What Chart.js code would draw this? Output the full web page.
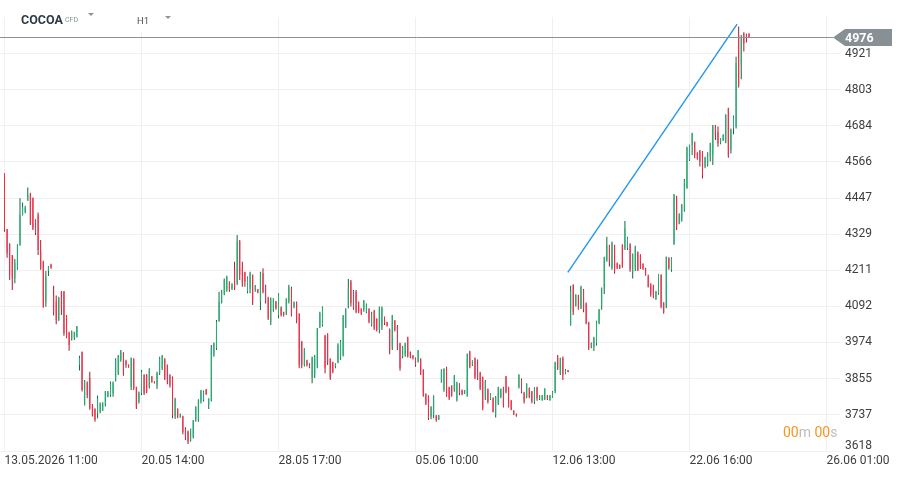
<!DOCTYPE html>
<html>
<head>
<meta charset="utf-8">
<script src="https://cdn.jsdelivr.net/npm/chart.js@4.4.1/dist/chart.umd.min.js"></script>
<style>
html,body{margin:0;padding:0;background:#fff;}
#wrap{position:relative;width:905px;height:477px;overflow:hidden;font-family:Roboto,"Noto Sans",sans-serif;}
#chart{position:absolute;left:0;top:0;}
.hdr{position:absolute;left:0;top:0;width:840px;height:17px;background:#fff;}
.hbox{position:absolute;left:128px;top:0;width:52px;height:32px;background:#fff;}
.txt{position:absolute;line-height:normal;white-space:nowrap;}
.sym{left:21px;top:11.5px;font-weight:700;font-size:12.5px;color:#2c3a45;}
.cfd{left:65px;top:15.5px;font-size:7px;color:#8a949b;}
.tf{left:137px;top:15px;font-size:9.5px;color:#4a555e;}
.tri{position:absolute;width:0;height:0;border-left:3.5px solid transparent;border-right:3.5px solid transparent;border-top:3.5px solid #8a949b;}
.timer{left:783px;top:424px;font-size:14px;color:#bdbdbd;}
.timer b{font-weight:400;color:#f7931e;}
</style>
</head>
<body>
<div id="wrap">
  <canvas id="chart" width="905" height="477"></canvas>
  <div class="hdr"></div>
  <div class="hbox"></div>
  <span class="txt sym">COCOA</span>
  <span class="txt cfd">CFD</span>
  <div class="tri" style="left:88px;top:13px;"></div>
  <span class="txt tf">H1</span>
  <div class="tri" style="left:165px;top:16px;"></div>
  <span class="txt timer"><b>00</b>m <b>00</b>s</span>
</div>
<script>
// H1 bars, index 0 = 13.05.2026 11:00
const open = [4529,4346,4294,4261,4184,4217,4292,4392,4403,4439,4458,4447,4376,4392,4274,4239,4108,4208,4230,4130,
  4108,4048,4141,4141,4062,4007,3988,3988,3993,3900,3942,3769,3843,3857,3769,3756,3742,3747,3753,3769,
  3796,3802,3807,3851,3873,3917,3938,3913,3902,3829,3920,3827,3780,3807,3867,3869,3829,3862,3847,3834,
  3873,3889,3920,3900,3867,3859,3731,3756,3729,3732,3692,3681,3654,3665,3720,3720,3780,3785,3820,3769,
  3785,3933,3955,4044,4108,4135,4146,4173,4151,4211,4168,4304,4217,4204,4140,4151,4195,4146,4148,4108,
  4201,4160,4119,4042,4081,4108,4064,4089,4073,4070,4108,4152,4092,4106,4068,3977,3900,3914,3904,3857,
  3867,3895,4026,4031,3996,4002,3920,3909,3895,3911,3922,3933,4026,4092,4174,4143,4141,4106,4084,4081,
  4075,4084,4031,4077,4051,4015,4026,4057,4040,4015,3960,4045,4028,3971,3927,3933,3991,3941,3930,3922,
  3911,3918,3883,3805,3799,3730,3736,3734,3723,3845,3818,3891,3827,3831,3818,3785,3838,3818,3807,3801,
  3944,3900,3922,3916,3875,3859,3791,3820,3788,3791,3736,3774,3794,3827,3862,3827,3783,3750,3740,3827,
  3853,3809,3796,3824,3813,3780,3826,3789,3785,3791,3800,3785,3796,3813,3928,3873,3924,3873,3883,4031,
  4162,4095,4127,4086,4146,4102,4040,3960,3960,3971,4037,4092,4152,4244,4291,4217,4291,4234,4228,4294,
  4283,4283,4296,4206,4217,4270,4261,4231,4217,4190,4166,4160,4117,4135,4195,4104,4092,4250,4212,4296,
  4452,4365,4376,4409,4480,4573,4622,4630,4596,4602,4600,4551,4556,4583,4589,4685,4665,4627,4638,4633,
  4742,4605,4676,4682,4982,4884,4988,4982,4986];
const high = [4529,4346,4299,4261,4248,4296,4447,4433,4422,4482,4465,4449,4378,4400,4310,4242,4208,4225,4232,4160,
  4128,4124,4143,4143,4064,4009,4013,4009,4028,3930,3944,3851,3846,3878,3772,3758,3800,3777,3778,3815,
  3815,3846,3846,3922,3933,3949,3942,3917,3902,3925,3922,3829,3813,3884,3870,3870,3889,3864,3847,3878,
  3927,3933,3922,3902,3870,3862,3793,3758,3741,3734,3696,3685,3692,3720,3765,3788,3818,3816,3821,3791,
  3966,3974,4048,4140,4146,4184,4193,4175,4168,4239,4326,4310,4239,4206,4190,4206,4197,4162,4149,4206,
  4217,4163,4124,4121,4119,4110,4135,4092,4075,4119,4163,4157,4108,4108,4070,3979,3955,3917,3906,3928,
  3933,4021,4075,4092,3999,4004,3922,3911,3906,3971,3982,4064,4086,4182,4179,4146,4146,4108,4086,4113,
  4102,4086,4075,4081,4053,4092,4092,4059,4042,4020,4064,4048,4031,3973,3962,3973,3993,3944,3933,3925,
  3949,3922,3886,3807,3801,3765,3801,3736,3736,3886,3889,3894,3829,3834,3867,3845,3840,3820,3818,3938,
  3947,3916,3925,3918,3878,3862,3851,3823,3807,3794,3798,3829,3823,3829,3864,3829,3785,3752,3741,3870,
  3856,3812,3840,3826,3815,3827,3829,3802,3802,3824,3802,3802,3815,3911,3933,3924,3928,3887,3884,4160,
  4165,4132,4130,4160,4149,4105,4042,3974,3993,4045,4084,4154,4255,4321,4294,4305,4294,4236,4230,4296,
  4372,4321,4299,4266,4291,4272,4263,4234,4219,4197,4168,4163,4143,4198,4198,4106,4256,4253,4253,4461,
  4455,4398,4428,4510,4616,4622,4662,4633,4598,4605,4602,4583,4598,4629,4687,4687,4682,4644,4657,4722,
  4744,4676,4718,4911,5010,4982,4991,4986,4988];
const low = [4337,4252,4179,4146,4168,4212,4292,4390,4398,4439,4359,4343,4326,4261,4212,4088,4091,4192,4216,4062,
  4034,4044,4064,3996,3988,3947,3980,3982,3990,3882,3813,3767,3791,3753,3731,3714,3725,3742,3749,3764,
  3794,3796,3796,3846,3867,3911,3865,3891,3891,3818,3818,3756,3774,3802,3802,3807,3823,3842,3839,3821,
  3867,3884,3851,3837,3826,3725,3723,3725,3727,3673,3654,3641,3649,3659,3714,3714,3774,3780,3802,3756,
  3780,3927,3949,4042,4102,4129,4140,4140,4146,4146,4162,4179,4157,4157,4135,4135,4097,4140,4135,4080,
  4135,4102,4048,4031,4075,4081,4053,4059,4059,4064,4102,4059,4086,4037,3889,3889,3895,3895,3889,3840,
  3857,3889,4021,4026,3873,3900,3851,3873,3889,3906,3917,3928,4021,4086,4092,4081,4070,4070,4064,4075,
  4070,4037,4026,4015,4010,4004,4015,4031,4026,3935,3949,4010,3949,3881,3922,3927,3925,3922,3918,3894,
  3908,3867,3796,3769,3720,3722,3725,3714,3720,3842,3812,3796,3785,3796,3812,3780,3801,3801,3805,3796,
  3889,3897,3853,3851,3818,3752,3785,3774,3785,3744,3728,3769,3791,3761,3807,3761,3752,3736,3730,3823,
  3807,3774,3791,3791,3775,3772,3783,3785,3783,3785,3785,3783,3793,3807,3884,3867,3851,3870,3876,4029,
  4064,4092,4081,4084,4073,4034,3949,3955,3946,3964,4034,4081,4133,4239,4223,4212,4199,4215,4215,4219,
  4277,4277,4206,4184,4208,4208,4215,4212,4193,4154,4124,4119,4113,4130,4086,4068,4086,4212,4206,4294,
  4343,4362,4370,4403,4478,4569,4589,4578,4573,4551,4512,4545,4551,4567,4556,4638,4616,4624,4635,4627,
  4580,4594,4657,4676,4810,4837,4928,4958,4974];
const close = [4343,4266,4195,4184,4234,4294,4392,4419,4416,4458,4365,4348,4332,4277,4217,4091,4190,4223,4219,4075,
  4048,4119,4086,4004,3990,3966,4009,4007,4026,3924,3818,3846,3802,3758,3736,3720,3791,3774,3774,3813,
  3813,3840,3843,3917,3931,3947,3873,3900,3894,3922,3824,3763,3810,3878,3807,3813,3884,3845,3840,3873,
  3924,3931,3856,3845,3834,3736,3788,3731,3739,3681,3660,3649,3690,3717,3763,3785,3816,3813,3805,3788,
  3955,3971,4042,4108,4140,4179,4190,4146,4164,4151,4304,4195,4168,4173,4186,4201,4108,4160,4137,4201,
  4140,4108,4053,4119,4117,4086,4132,4064,4064,4117,4157,4064,4106,4045,3900,3900,3953,3900,3893,3924,
  3928,4018,4070,4088,3889,3911,3857,3878,3904,3966,3977,4059,4081,4152,4103,4086,4075,4075,4070,4110,
  4099,4042,4070,4020,4015,4088,4088,4037,4029,3949,4062,4015,3955,3889,3960,3971,3929,3927,3922,3900,
  3947,3873,3801,3774,3725,3763,3798,3720,3734,3883,3886,3801,3791,3801,3864,3842,3807,3805,3816,3936,
  3894,3914,3859,3856,3823,3758,3847,3780,3805,3747,3794,3826,3820,3765,3812,3765,3754,3739,3733,3867,
  3812,3780,3837,3796,3780,3824,3791,3800,3800,3822,3789,3800,3813,3908,3889,3922,3867,3884,3877,4141,
  4075,4130,4084,4157,4081,4037,3955,3971,3988,4042,4081,4152,4252,4294,4239,4299,4206,4217,4217,4223,
  4348,4318,4212,4263,4288,4212,4217,4215,4197,4157,4130,4124,4141,4195,4092,4073,4252,4217,4250,4458,
  4348,4394,4425,4507,4613,4620,4660,4589,4578,4567,4523,4580,4594,4627,4682,4655,4627,4641,4655,4720,
  4589,4671,4715,4890,4819,4977,4955,4972,4976];

const xTickIndex = [0, 53, 106, 159, 212, 265, 318];
const xTickLabels = ['13.05.2026 11:00', '20.05 14:00', '28.05 17:00', '05.06 10:00', '12.06 13:00', '22.06 16:00', '26.06 01:00'];
const yTickValues = [3618, 3737, 3855, 3974, 4092, 4211, 4329, 4447, 4566, 4684, 4803, 4921];

// drawn trend line (bar index, price)
const trendX = [217.9, 283.4];
const trendY = [4204, 5018];

const UP = '#1fb574', UP_DARK = '#0b6b3f';
const DOWN = '#ff2b46', DOWN_DARK = '#a3192d';

const isUp = close.map((c, i) => c >= open[i]);
const bodyData = open.map((o, i) => ({x: i, y: [o, close[i]]}));
const wickData = open.map((o, i) => ({x: i, y: [low[i], high[i]]}));
const trendData = trendX.map((x, i) => ({x: x, y: trendY[i]}));

const lastPrice = {
  id: 'lastPrice',
  afterDatasetsDraw(chart) {
    const {ctx, chartArea, scales} = chart;
    const last = close[close.length - 1];
    const y = Math.round(scales.y.getPixelForValue(last)) + 0.5;
    const tip = chartArea.right - 7;
    ctx.save();
    ctx.strokeStyle = '#8a9296';
    ctx.lineWidth = 1;
    ctx.beginPath();
    ctx.moveTo(chartArea.left, y);
    ctx.lineTo(tip, y);
    ctx.stroke();
    ctx.fillStyle = '#879094';
    ctx.beginPath();
    ctx.moveTo(tip, y);
    ctx.lineTo(tip + 12, y - 8.5);
    ctx.lineTo(892, y - 8.5);
    ctx.lineTo(892, y + 8.5);
    ctx.lineTo(tip + 12, y + 8.5);
    ctx.closePath();
    ctx.fill();
    ctx.fillStyle = '#fff';
    ctx.font = 'bold 12.5px Roboto';
    ctx.textBaseline = 'middle';
    ctx.fillText(String(last), 845, y + 1);
    ctx.restore();
  }
};

new Chart(document.getElementById('chart'), {
  type: 'bar',
  data: {
    datasets: [
      {type: 'line', data: trendData, borderColor: '#2196f3', borderWidth: 1.4, pointRadius: 0, order: 0},
      {data: bodyData, backgroundColor: isUp.map(u => u ? UP : DOWN), barThickness: 1, inflateAmount: 0, minBarLength: 1, grouped: false, order: 1},
      {data: wickData, backgroundColor: isUp.map(u => u ? UP_DARK : DOWN_DARK), barThickness: 1, inflateAmount: 0, grouped: false, order: 2}
    ]
  },
  options: {
    responsive: false,
    animation: false,
    layout: {padding: 0},
    plugins: {legend: {display: false}, tooltip: {enabled: false}},
    scales: {
      x: {
        type: 'linear',
        min: -1.741,
        max: 323.2,
        offset: false,
        grid: {color: '#f0f0f0', drawTicks: false, offset: false},
        border: {display: false},
        afterBuildTicks: s => { s.ticks = xTickIndex.map(v => ({value: v})); },
        afterFit: s => { s.height = 26; s.paddingLeft = 0; s.paddingRight = 0; },
        ticks: {
          autoSkip: false, maxRotation: 0, align: 'start', padding: 3,
          color: '#3d3d3d', font: {family: 'Roboto', size: 12},
          callback: (v, i) => xTickLabels[i]
        }
      },
      y: {
        position: 'right',
        min: 3618,
        max: 5097,
        grid: {color: '#f0f0f0', drawTicks: false},
        border: {display: false},
        afterBuildTicks: s => { s.ticks = yTickValues.map(v => ({value: v})); },
        afterFit: s => { s.width = 65; s.paddingTop = 0; s.paddingBottom = 0; },
        ticks: {
          padding: 5, color: '#3d3d3d', font: {family: 'Roboto', size: 12, lineHeight: 0.8},
          // lowest label sits a little above its grid line, as in the original
          callback: v => v === yTickValues[0] ? [String(v), ''] : String(v)
        }
      }
    }
  },
  plugins: [lastPrice]
});
</script>
</body>
</html>
